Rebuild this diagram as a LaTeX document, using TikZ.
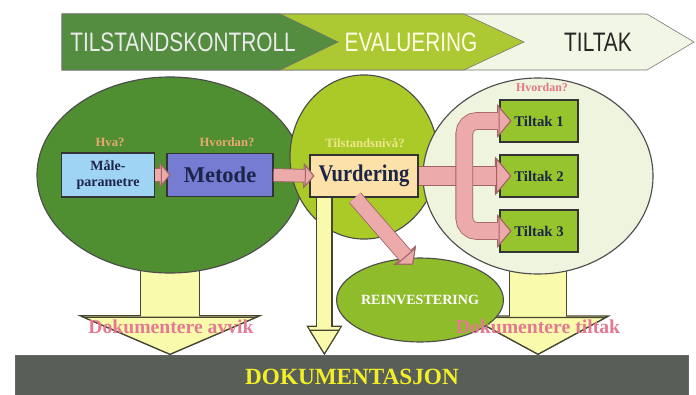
\documentclass[tikz,border=0pt]{standalone}
\usepackage{fontspec}
\setmainfont{Liberation Serif}
\newfontfamily\bandfont[FakeStretch=0.78]{Liberation Sans}
\newfontfamily\narrowserif[FakeStretch=0.86]{Liberation Serif}
\usetikzlibrary{calc}
\usetikzlibrary{arrows.meta}
\usetikzlibrary{shapes.geometric}
\usetikzlibrary{backgrounds}

\definecolor{banddark}{RGB}{84,140,64}
\definecolor{bandlime}{RGB}{172,200,50}
\definecolor{bandpale}{RGB}{242,246,228}
\definecolor{tkgreen}{RGB}{80,142,50}
\definecolor{evlime}{RGB}{170,202,40}
\definecolor{ttpale}{RGB}{238,244,222}
\definecolor{reinvgreen}{RGB}{142,188,42}
\definecolor{tiltakgreen}{RGB}{150,196,44}
\definecolor{skyblue}{RGB}{160,212,245}
\definecolor{slateblue}{RGB}{118,124,210}
\definecolor{peach}{RGB}{252,226,168}
\definecolor{navytext}{RGB}{28,36,72}
\definecolor{pinkfill}{RGB}{236,170,170}
\definecolor{pinkedge}{RGB}{160,100,100}
\definecolor{yellowfill}{RGB}{250,250,172}
\definecolor{yellowedge}{RGB}{70,70,50}
\definecolor{bargray}{RGB}{88,94,88}
\definecolor{dokuyellow}{RGB}{242,238,40}
\definecolor{doctext}{RGB}{228,122,146}
\definecolor{asktext}{RGB}{232,170,110}
\definecolor{nivatext}{RGB}{238,230,140}
\definecolor{pinkask}{RGB}{226,120,130}

\begin{document}
\begin{tikzpicture}[x=0.025cm, y=-0.025cm,
  circ/.style={ellipse, draw=black!70, line width=0.8pt, inner sep=0pt},
  box/.style={rectangle, draw=black!80, line width=0.9pt, inner sep=1pt, align=center, text=navytext},
  bandtext/.style={font=\bandfont\fontsize{19}{20}\selectfont},
  ask/.style={font=\fontsize{9}{10}\selectfont\bfseries},
  doc/.style={text=doctext, font=\fontsize{14}{16}\selectfont\bfseries},
  pinkarrow/.style={line width=#1, draw=pinkfill, preaction={draw=pinkedge, line width=#1+1.2pt}},
  yellowarrow/.style={line width=#1, draw=yellowfill, preaction={draw=yellowedge, line width=#1+1.6pt}},
  pinktip/.tip={Triangle[width=0pt 1.9, length=0pt 0.8, color=pinkedge, fill=pinkfill, line width=0.7pt]}]

\useasboundingbox (0,0) rectangle (696,394);

\draw[black!55, fill=bandpale] (62,14) -- (647,14) -- (694,42) -- (647,70) -- (62,70) -- cycle;
\draw[black!55, fill=bandlime] (62,14) -- (464,14) -- (524,42) -- (464,70) -- (62,70) -- cycle;
\draw[black!55, fill=banddark] (62,14) -- (280,14) -- (338,42) -- (280,70) -- (62,70) -- cycle;
\node[bandtext, text=black!8] (kontroll) at (183,42) {TILSTANDSKONTROLL};
\node[bandtext, text=white!90!yellow] (evaluering) at (411,42) {EVALUERING};
\node[bandtext, text=black!85] (tiltak) at (598,42) {TILTAK};

\node[circ, fill=tkgreen, minimum width=189.2pt, minimum height=139.4pt] (tk) at (170,175) {};
\node[circ, fill=evlime, minimum width=105.3pt, minimum height=116.7pt] (ev) at (364,157) {};
\node[circ, fill=ttpale, minimum width=163.6pt, minimum height=139.4pt] (tt) at (538,176) {};
\node[circ, fill=reinvgreen, minimum width=103.9pt, minimum height=59.7pt, text=white, font=\fontsize{10}{11}\selectfont\bfseries] (reinv) at (420,300) {REINVESTERING};

\node[fill=bargray, draw=black!60, anchor=north, minimum width=478.7pt, minimum height=31.3pt, text=dokuyellow, font=\fontsize{16.5}{18}\selectfont\bfseries] (doku) at (352,355) {DOKUMENTASJON};

\begin{scope}[on background layer]
\draw[yellowarrow=41.3pt, -{Triangle[width=0pt 3.07, length=0pt 0.66, color=yellowedge, fill=yellowfill, line width=0.9pt]}] (tk.center) -- (tk.center |- doku.north);
\draw[yellowarrow=39.8pt, -{Triangle[width=0pt 2.5, length=0pt 0.68, color=yellowedge, fill=yellowfill, line width=0.9pt]}] (tt.center) -- (tt.center |- doku.north);
\end{scope}

\node[box, fill=skyblue, minimum width=66.2pt, minimum height=31.3pt, font=\fontsize{10}{11}\selectfont\bfseries] (male) at (108,175) {Måle-\\parametre};
\node[box, fill=slateblue, minimum width=75.4pt, minimum height=30.6pt, font=\fontsize{16}{18}\selectfont\bfseries] (metode) at (220,175) {Metode};
\node[box, fill=peach, minimum width=76.8pt, minimum height=29.9pt, font=\narrowserif\fontsize{17}{19}\selectfont\bfseries] (vurdering) at (364,176) {Vurdering};
\foreach \i/\y in {1/121, 2/176, 3/231}
 \node[box, fill=tiltakgreen, minimum width=55.5pt, minimum height=29.9pt, font=\fontsize{10.5}{12}\selectfont\bfseries] (tiltak\i) at (539,\y) {Tiltak \i};

\node[ask, text=asktext] (hva) at (110,142) {Hva?};
\node[ask, text=asktext] (hvordan) at (227,142) {Hvordan?};
\node[ask, text=nivatext] (niva) at (365,143) {Tilstandsnivå?};
\node[ask, text=pinkask, font=\fontsize{8.5}{10}\selectfont\bfseries] (hvordanto) at (542,87) {Hvordan?};

\draw[pinkarrow=8.5pt, -pinktip] (male.east) -- ($(metode.west)+(4,0)$);
\draw[pinkarrow=8.5pt, -pinktip] (metode.east) -- ($(vurdering.west)+(5,0)$);
\draw[pinkarrow=13.5pt, -pinktip] (vurdering.east) -- ($(tiltak2.west)+(12,0)$);
\coordinate (fork) at ($(tiltak3.west)+(-35,0)$);
\draw[pinkarrow=11.4pt, pinktip-pinktip, rounded corners=9pt] ($(tiltak1.west)+(12,0)$) -| (fork) -- ($(tiltak3.west)+(12,0)$);
\draw[pinkarrow=10pt, -pinktip] ($(vurdering.south)+(-9,0)$) -- ($(reinv.north)+(-7,7)$);

\coordinate (vfoot) at ($(vurdering.south west)+(15,0)$);
\draw[yellowarrow=10pt, -{Triangle[width=0pt 2.2, length=0pt 1.8, color=yellowedge, fill=yellowfill, line width=0.8pt]}] (vfoot) -- (vfoot |- doku.north);

\node[doc] (avvik) at (171,327) {Dokumentere avvik};
\node[doc] (dtiltak) at (538,327) {Dokumentere tiltak};

\end{tikzpicture}
\end{document}
